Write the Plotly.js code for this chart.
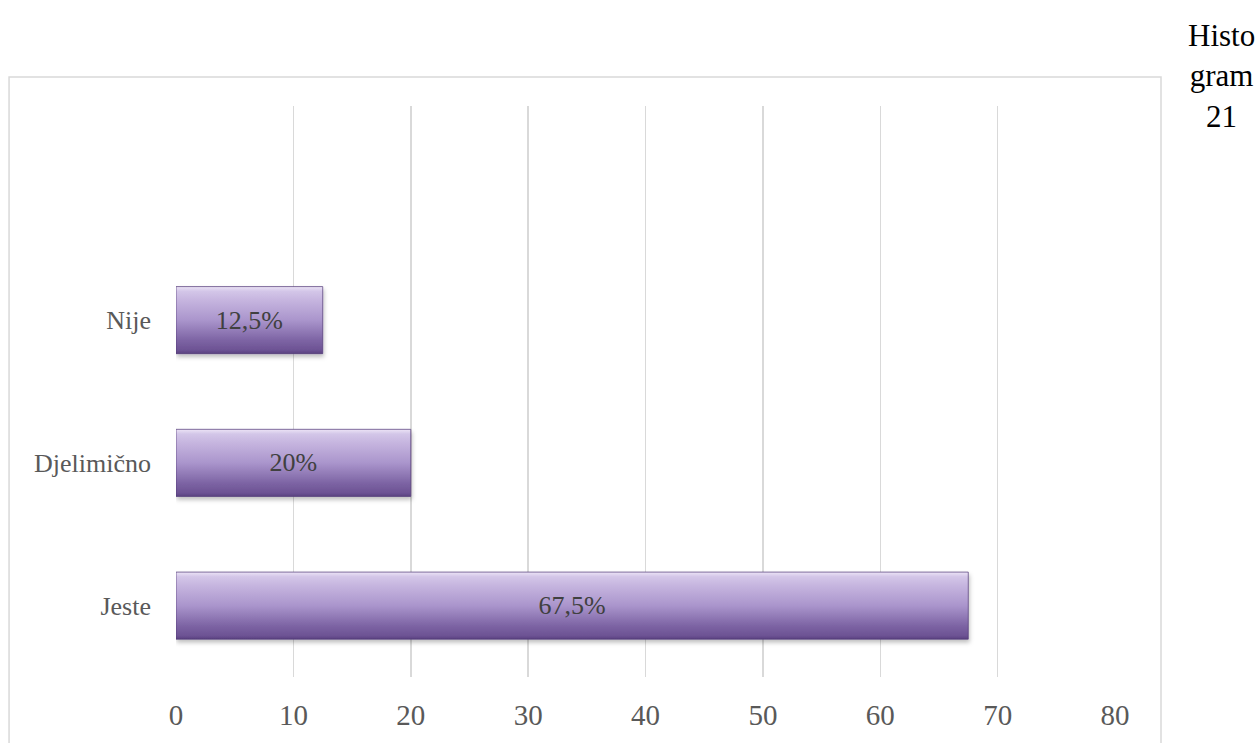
<!DOCTYPE html>
<html>
<head>
<meta charset="utf-8">
<script src="https://cdn.plot.ly/plotly-3.0.1.min.js"></script>
<style>html,body{margin:0;padding:0;background:#fff;}#chart{width:1260px;height:743px;}</style>
</head>
<body>
<div id="chart"></div>
<script>
const categories = ['Jeste', 'Djelimično', 'Nije'];
const values = [67.5, 20, 12.5];
const xTickValues = [0, 10, 20, 30, 40, 50, 60, 70, 80];
const titleText = 'Histo<br>gram<br>21';

const labels = values.map(v => String(v).replace('.', ',') + '%');
const serif = 'Liberation Serif, Times New Roman, serif';

const trace = {
  type: 'bar',
  orientation: 'h',
  y: categories,
  x: values,
  width: 0.47,
  text: labels,
  textposition: 'inside',
  insidetextanchor: 'middle',
  textfont: {family: serif, size: 26, color: '#404040'},
  marker: {color: '#a58fc8', line: {color: 'rgba(80,56,118,0.7)', width: 1}},
  hoverinfo: 'none'
};

const layout = {
  width: 1260, height: 743,
  margin: {l: 176, r: 145, t: 106, b: 66},
  paper_bgcolor: '#ffffff', plot_bgcolor: '#ffffff',
  showlegend: false,
  xaxis: {
    range: [0, 80], tickvals: xTickValues, showgrid: true,
    gridcolor: '#d9d9d9', gridwidth: 1.5, zeroline: false, showline: false,
    ticks: '', ticklabelstandoff: 18,
    tickfont: {family: serif, size: 29, color: '#595959'}
  },
  yaxis: {
    type: 'category', categoryarray: categories, range: [-0.5, 3.5],
    showgrid: false, zeroline: false, showline: false, ticks: '',
    ticklabelstandoff: 24,
    tickfont: {family: serif, size: 26, color: '#595959'}
  },
  shapes: [{
    type: 'rect', xref: 'paper', yref: 'paper',
    x0: -0.1778, x1: 1.049, y0: -0.2, y1: 1.0508,
    line: {color: '#d9d9d9', width: 1.5}, fillcolor: 'rgba(0,0,0,0)', layer: 'below'
  }],
  annotations: [{
    xref: 'paper', yref: 'paper', x: 1.1129, y: 1.1576,
    xanchor: 'center', yanchor: 'top', showarrow: false, align: 'center',
    text: titleText, font: {family: serif, size: 31, color: '#000000'}
  }]
};

Plotly.newPlot('chart', [trace], layout, {staticPlot: true}).then(gd => {
  const svg = gd.querySelector('svg.main-svg');
  const ns = 'http://www.w3.org/2000/svg';
  let defs = svg.querySelector('defs');
  if (!defs) { defs = document.createElementNS(ns, 'defs'); svg.insertBefore(defs, svg.firstChild); }
  const grad = document.createElementNS(ns, 'linearGradient');
  grad.setAttribute('id', 'barGrad');
  grad.setAttribute('x1', '0'); grad.setAttribute('y1', '0');
  grad.setAttribute('x2', '0'); grad.setAttribute('y2', '1');
  [['0', '#ece4f6'], ['0.07', '#d3c6e8'], ['0.2', '#c6b5df'], ['0.5', '#aa95cc'], ['0.8', '#7d64a4'], ['0.95', '#6c5293'], ['1', '#5a4280']].forEach(([o, c]) => {
    const s = document.createElementNS(ns, 'stop');
    s.setAttribute('offset', o); s.setAttribute('stop-color', c);
    grad.appendChild(s);
  });
  defs.appendChild(grad);
  const filt = document.createElementNS(ns, 'filter');
  filt.setAttribute('id', 'barShadow');
  filt.setAttribute('x', '-5%'); filt.setAttribute('y', '-10%');
  filt.setAttribute('width', '110%'); filt.setAttribute('height', '130%');
  const ds = document.createElementNS(ns, 'feDropShadow');
  ds.setAttribute('dx', '1'); ds.setAttribute('dy', '3');
  ds.setAttribute('stdDeviation', '2'); ds.setAttribute('flood-color', '#000'); ds.setAttribute('flood-opacity', '0.25');
  filt.appendChild(ds);
  defs.appendChild(filt);
  gd.querySelectorAll('.barlayer .point path').forEach(p => {
    p.style.fill = 'url(#barGrad)';
    p.style.fillOpacity = '1';
    p.setAttribute('filter', 'url(#barShadow)');
  });
});
</script>
</body>
</html>
